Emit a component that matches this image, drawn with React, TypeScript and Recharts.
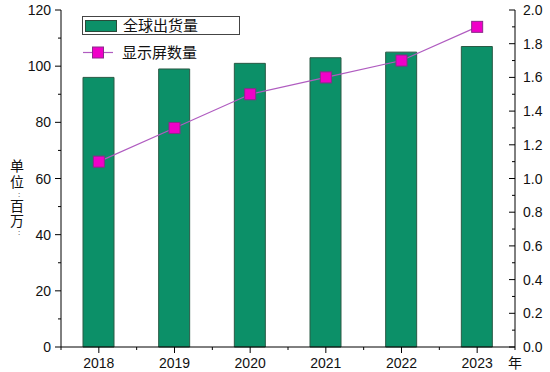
import React from 'react';
import { ComposedChart, Bar, Line, XAxis, YAxis, Legend } from 'recharts';

const years = ['2018', '2019', '2020', '2021', '2022', '2023'];
const shipments = [96, 99, 101, 103, 105, 107];
const displays = [1.1, 1.3, 1.5, 1.6, 1.7, 1.9];
const leftTicks = [0, 10, 20, 30, 40, 50, 60, 70, 80, 90, 100, 110, 120];
const rightTicks = [0, 0.1, 0.2, 0.3, 0.4, 0.5, 0.6, 0.7, 0.8, 0.9, 1.0, 1.1, 1.2, 1.3, 1.4, 1.5, 1.6, 1.7, 1.8, 1.9, 2.0];
const yLabelChars = ['单', '位', '：', '百', '万', '：'];

const data = years.map((year, i) => ({
  year,
  shipments: shipments[i],
  displays: displays[i],
}));

const FONT = "'Liberation Sans', Arial, 'Noto Sans CJK SC', sans-serif";
const BAR_COLOR = '#0c9068';
const MARKER_COLOR = '#f000c8';
const LINE_COLOR = '#b05cc0';

const LeftTick = ({ x, y, payload }: any) => {
  const major = Math.round(payload.value) % 20 === 0;
  return (
    <g>
      <line x1={x - (major ? 6 : 3)} x2={x} y1={y} y2={y} stroke="#000" />
      {major && (
        <text x={x - 10} y={y} textAnchor="end" dominantBaseline="central" fontSize={14} fill="#111" fontFamily={FONT}>
          {payload.value}
        </text>
      )}
    </g>
  );
};

const RightTick = ({ x, y, payload }: any) => {
  const major = Math.round(payload.value * 10) % 2 === 0;
  return (
    <g>
      <line x1={x - (major ? 6 : 3)} x2={x} y1={y} y2={y} stroke="#000" />
      {major && (
        <text x={x + 8} y={y} textAnchor="start" dominantBaseline="central" fontSize={14} fill="#111" fontFamily={FONT}>
          {payload.value.toFixed(1)}
        </text>
      )}
    </g>
  );
};

const BottomTick = ({ x, y, payload, index }: any) => {
  const half = (515 - 61) / years.length / 2;
  return (
    <g>
      <line x1={x} x2={x} y1={y} y2={y + 6} stroke="#000" />
      <line x1={x + half} x2={x + half} y1={y} y2={y + 3} stroke="#000" />
      {index === 0 && <line x1={x - half} x2={x - half} y1={y} y2={y + 3} stroke="#000" />}
      <text x={x} y={y + 16} textAnchor="middle" dominantBaseline="central" fontSize={14} fill="#111" fontFamily={FONT}>
        {payload.value}
      </text>
    </g>
  );
};

const SquareDot = ({ cx, cy, index }: any) => (
  <rect key={index} x={cx - 5.5} y={cy - 5.5} width={11} height={11} fill={MARKER_COLOR} stroke="#8a2a8a" strokeWidth={1} />
);

const LegendContent = ({ payload }: any) => {
  const items = payload || [];
  return (
    <div style={{ fontFamily: FONT, fontSize: 15, color: '#111' }}>
      {items.map((item: any, i: number) =>
        item.type === 'rect' ? (
          <div key={i} style={{ width: 156, height: 17, border: '1px solid #444', display: 'flex', alignItems: 'center', boxSizing: 'content-box' }}>
            <div style={{ width: 32, height: 12, background: BAR_COLOR, border: '1px solid #2a4a3a', marginLeft: 2, boxSizing: 'border-box' }} />
            <span style={{ marginLeft: 6, lineHeight: '17px' }}>{item.value}</span>
          </div>
        ) : (
          <div key={i} style={{ height: 17, marginTop: 9, display: 'flex', alignItems: 'center' }}>
            <svg width={32} height={17} style={{ marginLeft: 1 }}>
              <line x1={0} x2={30} y1={8.5} y2={8.5} stroke={LINE_COLOR} strokeWidth={1.2} />
              <rect x={9.5} y={3} width={11} height={11} fill={MARKER_COLOR} stroke="#8a2a8a" />
            </svg>
            <span style={{ marginLeft: 7, lineHeight: '17px' }}>{item.value}</span>
          </div>
        )
      )}
    </div>
  );
};

const YLabel = ({ viewBox }: any) => {
  const cx = viewBox.x + 17;
  const ys = [166, 182, 194, 206, 221, 232];
  return (
    <g>
      {yLabelChars.map((c, i) => (
        <text
          key={i}
          x={c === '：' ? cx + 2 : cx}
          y={ys[i]}
          dominantBaseline="central"
          textAnchor="middle"
          fontFamily={FONT}
          fontSize={c === '：' ? 8 : 14}
          fill="#111"
        >
          {c === '：' ? ':' : c}
        </text>
      ))}
    </g>
  );
};

const XLabel = ({ viewBox }: any) => (
  <text x={viewBox.x + viewBox.width} y={viewBox.y + 16} textAnchor="middle" dominantBaseline="central" fontFamily={FONT} fontSize={14} fill="#111">
    年
  </text>
);

export default function App() {
  return (
    <div style={{ position: 'absolute', left: 0, top: 0, width: 550, height: 372, background: '#fff' }}>
      <ComposedChart width={550} height={372} data={data} margin={{ top: 10, right: 0, bottom: 0, left: 0 }}>
        <XAxis
          dataKey="year"
          height={25}
          tickSize={0}
          tickMargin={0}
          interval={0}
          tick={<BottomTick />}
          tickLine={false}
          axisLine={{ stroke: '#000' }}
          label={<XLabel />}
        />
        <YAxis
          yAxisId="left"
          width={61}
          domain={[0, 120]}
          ticks={leftTicks}
          interval={0}
          tickSize={0}
          tickMargin={0}
          tickLine={false}
          tick={<LeftTick />}
          axisLine={{ stroke: '#000' }}
          label={<YLabel />}
        />
        <YAxis
          yAxisId="right"
          orientation="right"
          width={35}
          domain={[0, 2]}
          ticks={rightTicks}
          interval={0}
          tickSize={0}
          tickMargin={0}
          tickLine={false}
          tick={<RightTick />}
          axisLine={{ stroke: '#000' }}
        />
        <Legend
          layout="horizontal"
          verticalAlign="middle"
          content={<LegendContent />}
          wrapperStyle={{ position: 'absolute', left: 82, top: 16, width: 'auto' }}
        />
        <Bar
          yAxisId="left"
          dataKey="shipments"
          name="全球出货量"
          fill={BAR_COLOR}
          stroke="#2a5a45"
          strokeWidth={1}
          barSize={31}
          legendType="rect"
          isAnimationActive={false}
        />
        <Line
          yAxisId="right"
          dataKey="displays"
          name="显示屏数量"
          type="linear"
          stroke={LINE_COLOR}
          strokeWidth={1.2}
          dot={<SquareDot />}
          activeDot={false}
          legendType="square"
          isAnimationActive={false}
        />
      </ComposedChart>
    </div>
  );
}
